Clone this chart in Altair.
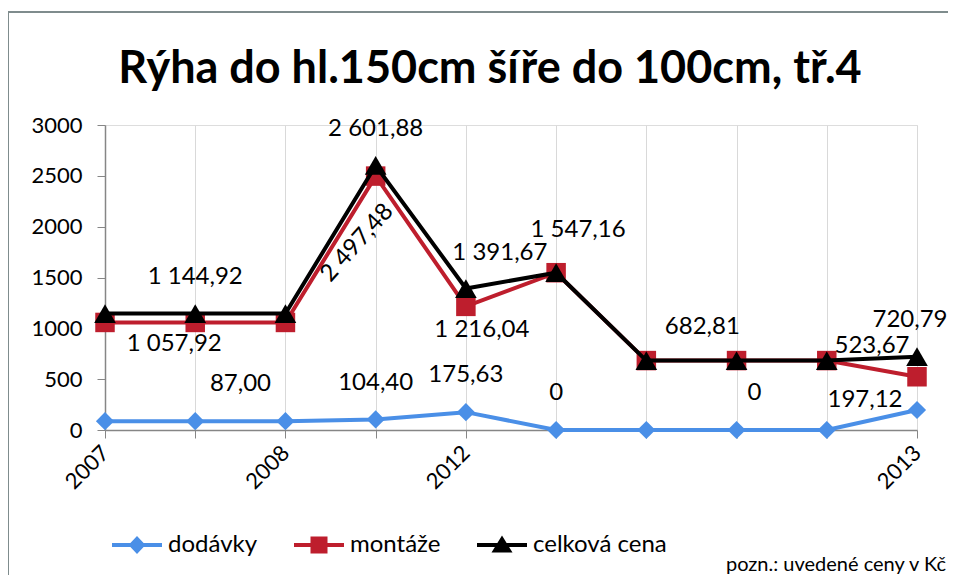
import json
import altair as alt
import pandas as pd

# ---------------- data ----------------
categories = ["2007", "", "2008", "", "2012", "", "", "", "", "2013"]
dodavky = [87.00, 87.00, 87.00, 104.40, 175.63, 0.0, 0.0, 0.0, 0.0, 197.12]
montaze = [1057.92, 1057.92, 1057.92, 2497.48, 1216.04, 1547.16, 682.81, 682.81, 682.81, 523.67]
celkova = [1144.92, 1144.92, 1144.92, 2601.88, 1391.67, 1547.16, 682.81, 682.81, 682.81, 720.79]
series_names = ["dodávky", "montáže", "celková cena"]
y_ticks = [0, 500, 1000, 1500, 2000, 2500, 3000]
title_text = "Rýha do hl.150cm šíře do 100cm, tř.4"
note_text = "pozn.: uvedené ceny v Kč"

# which points carry a data label: (series, index)
labelled = {
    "dodávky": [2, 3, 4, 5, 7, 9],
    "montáže": [1, 3, 4, 5, 6, 9],
    "celková cena": [1, 3, 4, 9],
}

# ---------------- styling ----------------
colors = ["#4A8FE7", "#BE1E2D", "#000000"]
shapes = ["diamond", "square", "triangle-up"]
sizes = [330, 380, 470]
legend_paths = [
    "M-1,-0.08H1V0.08H-1Z M-0.34,0L0,-0.36L0.34,0L0,0.36Z",
    "M-1,-0.08H1V0.08H-1Z M-0.34,-0.34H0.34V0.34H-0.34Z",
    "M-1,-0.08H1V0.08H-1Z M0,-0.38L0.42,0.3H-0.42Z",
]
# label offsets (dx, dy, angle) per (series, index); for rotated text the
# offsets are in the text's own rotated frame
label_style = {
    ("celková cena", 1): (0, -37, 0),
    ("celková cena", 3): (0, -36, 0),
    ("celková cena", 4): (34, -36, 0),
    ("celková cena", 9): (-7, -37, 0),
    ("montáže", 1): (-21, 22, 0),
    ("montáže", 3): (-62, 31, 312),
    ("montáže", 4): (16, 24, 0),
    ("montáže", 5): (22, -43, 0),
    ("montáže", 6): (56, -34, 0),
    ("montáže", 9): (-45, -31, 0),
    ("dodávky", 2): (-45, -37, 0),
    ("dodávky", 3): (0, -36, 0),
    ("dodávky", 4): (0, -37, 0),
    ("dodávky", 5): (0, -37, 0),
    ("dodávky", 7): (18, -37, 0),
    ("dodávky", 9): (-52, -10, 0),
}
FONT = "Lato"


def cz(v):
    if v == 0:
        return "0"
    return f"{v:,.2f}".replace(",", " ").replace(".", ",")


rows = []
for name, vals in zip(series_names, [dodavky, montaze, celkova]):
    for i, v in enumerate(vals):
        rows.append({"idx": i, "series": name, "value": v, "label": cz(v)})
df = pd.DataFrame(rows)

x_enc = alt.X(
    "idx:Q",
    scale=alt.Scale(domain=[0, len(categories) - 1], nice=False, zero=False),
    axis=alt.Axis(
        values=list(range(len(categories))),
        labelExpr=json.dumps(categories) + "[datum.value]",
        labelAngle=315, labelAlign="right", labelBaseline="middle",
        labelPadding=11, labelFont=FONT, labelFontSize=22, labelColor="#000000",
        labelOverlap=False, tickSize=8, tickColor="#868686", domainColor="#868686",
        domainWidth=1.5, grid=True, gridColor="#D9D9D9", gridWidth=1, title=None,
    ),
)
y_enc = alt.Y(
    "value:Q",
    scale=alt.Scale(domain=[0, 3000], nice=False),
    axis=alt.Axis(
        values=y_ticks, format="d", labelFont=FONT, labelFontSize=22, labelColor="#000000",
        labelPadding=15, tickSize=8, tickColor="#868686", domainColor="#868686",
        domainWidth=1.5, grid=False, title=None,
    ),
)

base = alt.Chart(df)
layers = []
for name, col, shp, sz in zip(series_names, colors, shapes, sizes):
    sub = base.transform_filter(alt.datum.series == name)
    layers.append(
        sub.mark_line(strokeWidth=4, color=col).encode(x=x_enc, y=y_enc)
    )
    layers.append(
        sub.mark_point(shape=shp, size=sz, filled=True, opacity=1, color=col).encode(
            x=x_enc, y=y_enc)
    )

for name in series_names:
    for i in labelled[name]:
        dx, dy, ang = label_style[(name, i)]
        layers.append(
            base.transform_filter(
                (alt.datum.series == name) & (alt.datum.idx == i)
            ).mark_text(
                font=FONT, fontSize=24, color="#000000", align="center",
                baseline="middle", dx=dx, dy=dy, angle=ang,
            ).encode(x=x_enc, y=y_enc, text="label:N")
        )

legend_def = alt.Legend(
    orient="none", legendX=7, legendY=395, direction="horizontal", title=None,
    labelFont=FONT, labelFontSize=24, labelColor="#000000", symbolSize=2500,
    symbolStrokeWidth=0, labelOffset=6, columnPadding=36, padding=0,
)
legend_layer = base.transform_filter("false").mark_point(filled=True, opacity=1).encode(
    x=x_enc, y=y_enc,
    color=alt.Color("series:N", scale=alt.Scale(domain=series_names, range=colors),
                    legend=legend_def),
    shape=alt.Shape("series:N", scale=alt.Scale(domain=series_names, range=legend_paths),
                    legend=legend_def),
)
layers.append(legend_layer)

one = pd.DataFrame({"t": [note_text], "h": [title_text]})
border_top = alt.Chart(one).mark_rule(color="#7F8C8D", strokeWidth=2).encode(
    x=alt.value(-97), x2=alt.value(851), y=alt.value(-113))
border_left = alt.Chart(one).mark_rule(color="#7F8C8D", strokeWidth=2).encode(
    x=alt.value(-97), y=alt.value(-113), y2=alt.value(458))
note = alt.Chart(one).mark_text(
    font=FONT, fontSize=20, color="#000000", align="right", baseline="middle"
).encode(x=alt.value(841), y=alt.value(440), text="t:N")
title = alt.Chart(one).mark_text(
    font=FONT, fontSize=45, fontWeight="bold", color="#000000", align="center",
    baseline="alphabetic"
).encode(x=alt.value(385), y=alt.value(-42), text="h:N")

chart = alt.layer(border_top, border_left, title, *layers, note).properties(
    width=812, height=305,
    autosize=alt.AutoSizeParams(type="none"),
    padding={"left": 97, "top": 117, "right": 31, "bottom": 145},
).configure_view(strokeWidth=0).configure(background="white")

chart.save("out.html", embed_options={"renderer": "svg", "actions": False})
